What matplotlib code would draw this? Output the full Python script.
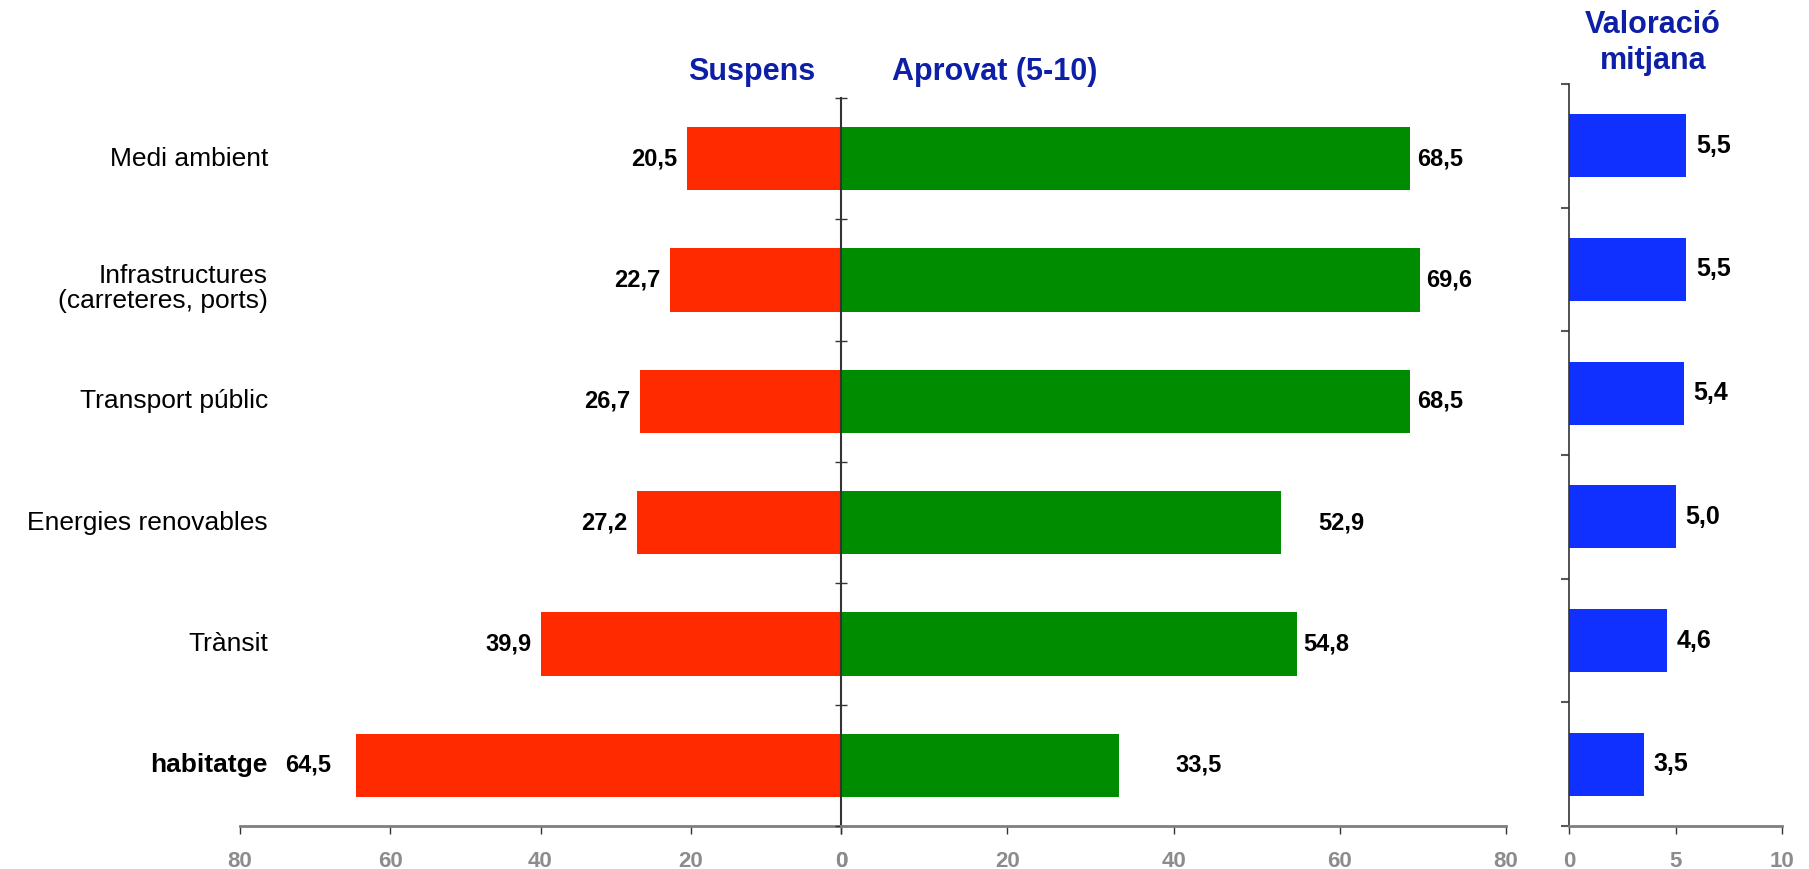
"""Valoració de polítiques: suspens / aprovat i valoració mitjana"""

import numpy as np
import matplotlib.pyplot as plt

plt.rcParams["font.family"] = ["Liberation Sans", "DejaVu Sans"]

# %% data
categories = ["Medi ambient", "Infrastructures\n(carreteres, ports)", "Transport públic",
              "Energies renovables", "Trànsit", "habitatge"]
suspens = [20.5, 22.7, 26.7, 27.2, 39.9, 64.5]
aprovat = [68.5, 69.6, 68.5, 52.9, 54.8, 33.5]
valoracio = [5.5, 5.5, 5.4, 5.0, 4.6, 3.5]

# label gaps (points) as in the original layout
pad_susp = [7, 7, 7, 7, 7, 18]
pad_apr = [5, 5, 5, 27, 5, 40]

red, green, blue = "#FF2A00", "#008C00", "#0F30FF"
title_col = "#0D1FA6"
tick_col = "#8C8C8C"

W, H = 1809, 869
fig = plt.figure(figsize=(W / 100, H / 100), dpi=100)

def fr(x0, y0, x1, y1):
    return [x0 / W, 1 - y1 / H, (x1 - x0) / W, (y1 - y0) / H]

ax_l = fig.add_axes(fr(240, 98, 841, 826))
ax_r = fig.add_axes(fr(841, 98, 1506, 826))
ax_v = fig.add_axes(fr(1569, 84, 1782, 826))

y = np.arange(len(categories))
bh = 0.52

# %% suspens (left)
ax_l.barh(y, -np.array(suspens), height=bh, color=red, edgecolor="none")
for yi, v, p in zip(y, suspens, pad_susp):
    ax_l.annotate(f"{v:.1f}".replace(".", ","), (-v, yi), xytext=(-p, 0),
                  textcoords="offset points", ha="right", va="center",
                  fontsize=17, fontweight="bold")
ax_l.set_xlim(-80, 0)
ax_l.set_xticks([-80, -60, -40, -20, 0])
ax_l.set_xticklabels(["80", "60", "40", "20", "0"])
for yi, c in zip(y, categories):
    ax_l.text(28 / 601, yi + (0.07 if "\n" in c else 0), c,
              transform=ax_l.get_yaxis_transform(),
              ha="right", va="center", fontsize=19, linespacing=1.1,
              fontweight="bold" if c == "habitatge" else "normal")

# %% aprovat (right)
ax_r.barh(y, aprovat, height=bh, color=green, edgecolor="none")
for yi, v, p in zip(y, aprovat, pad_apr):
    ax_r.annotate(f"{v:.1f}".replace(".", ","), (v, yi), xytext=(p, 0),
                  textcoords="offset points", ha="left", va="center",
                  fontsize=17, fontweight="bold")
ax_r.set_xlim(0, 80)
ax_r.set_xticks([0, 20, 40, 60, 80])

# %% valoració mitjana
ax_v.barh(y, valoracio, height=0.51, color=blue, edgecolor="none")
for yi, v in zip(y, valoracio):
    ax_v.annotate(f"{v:.1f}".replace(".", ","), (v, yi), xytext=(7, 0),
                  textcoords="offset points", ha="left", va="center",
                  fontsize=18, fontweight="bold")
ax_v.set_xlim(0, 10)
ax_v.set_xticks([0, 5, 10])

bounds = np.arange(len(categories) + 1) - 0.5
for ax in (ax_l, ax_r, ax_v):
    ax.set_ylim(len(categories) - 0.5, -0.5)
    for s in ("top", "right", "left"):
        ax.spines[s].set_visible(False)
    ax.spines["bottom"].set_color("#7F7F7F")
    ax.spines["bottom"].set_linewidth(2)
    ax.tick_params(axis="x", length=6, width=1, color="#333333", pad=12)
    for lab in ax.get_xticklabels():
        lab.set_fontweight("bold")
        lab.set_fontsize(16)
        lab.set_color(tick_col)
    ax.set_yticks(bounds)
    ax.set_yticklabels([])
    ax.set_facecolor("none")

ax_l.tick_params(axis="y", length=0)
ax_r.spines["left"].set_visible(True)
ax_r.spines["left"].set_color("#333333")
ax_r.spines["left"].set_linewidth(1.5)
ax_r.tick_params(axis="y", direction="inout", length=8, width=1, color="#333333")
ax_v.spines["left"].set_visible(True)
ax_v.spines["left"].set_color("#333333")
ax_v.spines["left"].set_linewidth(1.2)
ax_v.tick_params(axis="y", direction="out", length=6, width=1.5, color="#555566")

# %% headers
fig.text(752 / W, 1 - 72 / H, "Suspens", ha="center", va="center",
         fontsize=22, fontweight="bold", color=title_col)
fig.text(995 / W, 1 - 72 / H, "Aprovat (5-10)", ha="center", va="center",
         fontsize=22, fontweight="bold", color=title_col)
fig.text(1653 / W, 1 - 43 / H, "Valoració\nmitjana", ha="center", va="center",
         fontsize=22, fontweight="bold", color=title_col, linespacing=1.25)

# %% save plot
fig.savefig("out.png", dpi=100)
